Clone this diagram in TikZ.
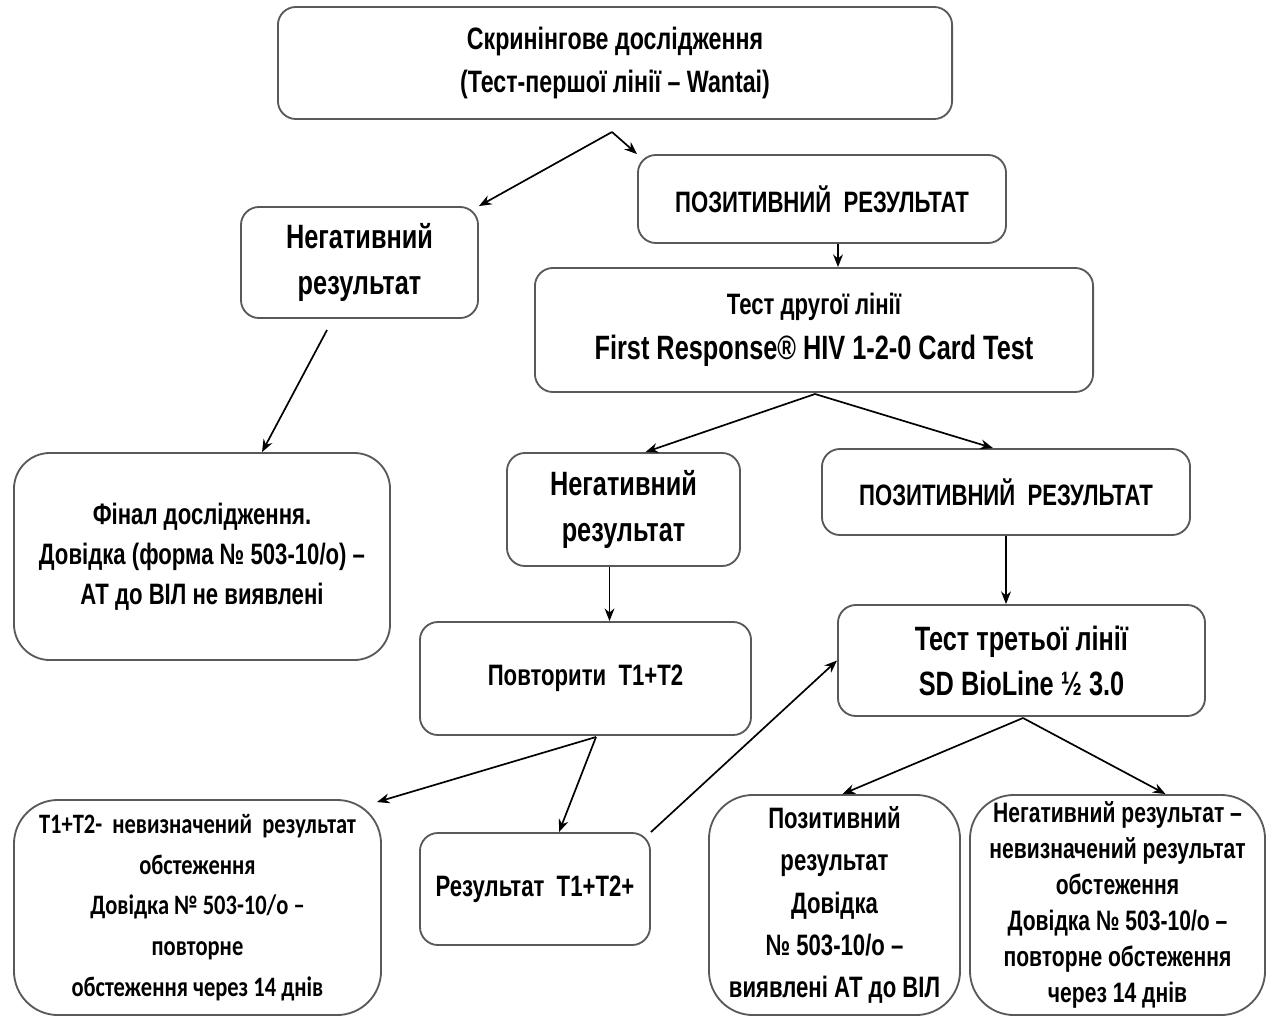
\documentclass[tikz,border=0pt]{standalone}
\usepackage{fontspec}
\setmainfont[FakeStretch=0.75]{Liberation Sans}
\newfontfamily\notefont[FakeStretch=0.8]{Carlito}
\usetikzlibrary{arrows.meta}

\begin{document}
\begin{tikzpicture}[x=0.025cm, y=-0.025cm,
    box/.style={draw=black!65, line width=1.3pt, rounded corners=0.45cm,
        align=center, inner sep=2pt, font=\bfseries\fontsize{21}{30}\selectfont},
    bigbox/.style={box, rounded corners=1.1cm},
    big/.style={font=\bfseries\fontsize{24}{33}\selectfont},
    flow/.style={-{Stealth[length=9pt, width=7pt]}, line width=1.2pt}]
    \useasboundingbox (0,0) rectangle (1280,1025);

    % Draw first line
    \node[box, minimum width=16.85cm, minimum height=2.8cm,
        font=\bfseries\fontsize{22}{31}\selectfont] (screen) at (615,63)
        {Скринінгове дослідження\\(Тест-першої лінії – Wantai)};
    \node[box, minimum width=9.2cm, minimum height=2.2cm] (pos1) at (822,199)
        {ПОЗИТИВНИЙ\ \ РЕЗУЛЬТАТ};
    \node[box, big, minimum width=5.925cm, minimum height=2.775cm] (neg1) at (359.5,262.5)
        {Негативний\\результат};
    \node[bigbox, rounded corners=0.9cm, minimum width=9.4cm, minimum height=5.175cm,
        font=\bfseries\fontsize{21}{28.5}\selectfont] (final) at (202,556.5)
        {Фінал дослідження.\\Довідка (форма № 503-10/о) –\\АТ до ВІЛ не виявлені};

    % Draw second line
    \node[box, minimum width=13.95cm, minimum height=3.1cm,
        font=\bfseries\fontsize{24}{32}\selectfont] (test2) at (814,330)
        {\fontsize{21}{32}\selectfont Тест другої лінії\\First Response® HIV 1-2-0 Card Test};
    \node[box, big, minimum width=5.825cm, minimum height=2.825cm] (neg2) at (623.5,509.5)
        {Негативний\\результат};
    \node[box, minimum width=9.2cm, minimum height=2.15cm] (pos2) at (1006,492)
        {ПОЗИТИВНИЙ\ \ РЕЗУЛЬТАТ};
    \node[box, minimum width=8.275cm, minimum height=2.825cm] (repeat) at (585.5,678.5)
        {Повторити\ \ Т1+Т2};

    % Draw third line
    \node[box, minimum width=9.175cm, minimum height=2.775cm,
        font=\bfseries\fontsize{24}{32}\selectfont] (test3) at (1021.5,660.5)
        {Тест третьої лінії\\SD BioLine ½ 3.0};
    \node[bigbox, minimum width=9.175cm, minimum height=5.375cm,
        font=\notefont\bfseries\fontsize{20}{29}\selectfont] (undet) at (197.5,907.5)
        {Т1+Т2-\ \ невизначений\ \ результат\\обстеження\\Довідка № 503-10/о –\\повторне\\обстеження через 14 днів};
    \node[box, minimum width=5.75cm, minimum height=2.8cm] (plus) at (535,889)
        {Результат\ \ Т1+Т2+};
    \node[bigbox, minimum width=6.275cm, minimum height=5.5cm] (pos3) at (834.5,905)
        {Позитивний\\результат\\Довідка\\№ 503-10/о –\\виявлені АТ до ВІЛ};
    \node[bigbox, minimum width=7.375cm, minimum height=5.5cm, inner sep=0pt,
        font=\bfseries\fontsize{20}{25.5}\selectfont] (neg3) at (1117.5,905)
        {Негативний результат –\\невизначений результат\\обстеження\\Довідка № 503-10/о –\\повторне обстеження\\через 14 днів};

    % Draw split points
    \coordinate (s1) at (612,132);
    \coordinate (s2) at (327,330);
    \coordinate (s3) at (815,394);
    \coordinate (s4) at (596,737);
    \coordinate (s5) at (1023,718);

    % Draw arrows
    \draw[flow] (s1) -- (neg1.north east);
    \draw[flow] (s1) -- (pos1.north west);
    \draw[flow] ([xshift=0.4cm]pos1.south) -- ([xshift=0.4cm]pos1.south |- test2.north);
    \draw[flow] (s2) -- ([xshift=1.5cm]final.north);
    \draw[flow] (s3) -- ([xshift=0.55cm]neg2.north);
    \draw[flow] (s3) -- ([xshift=-0.325cm]pos2.north);
    \draw[flow] ([xshift=-0.35cm]neg2.south) -- ([xshift=-0.35cm]neg2.south |- repeat.north);
    \draw[flow] (pos2.south) -- (pos2.south |- test3.north);
    \draw[flow] (s4) -- ([shift={(-5,3)}]undet.north east);
    \draw[flow] (s4) -- ([xshift=0.6cm]plus.north);
    \draw[flow] (plus.north east) -- (test3.west);
    \draw[flow] (s5) -- ([xshift=0.2cm]pos3.north);
    \draw[flow] (s5) -- ([xshift=1.2cm]neg3.north);
\end{tikzpicture}
\end{document}
